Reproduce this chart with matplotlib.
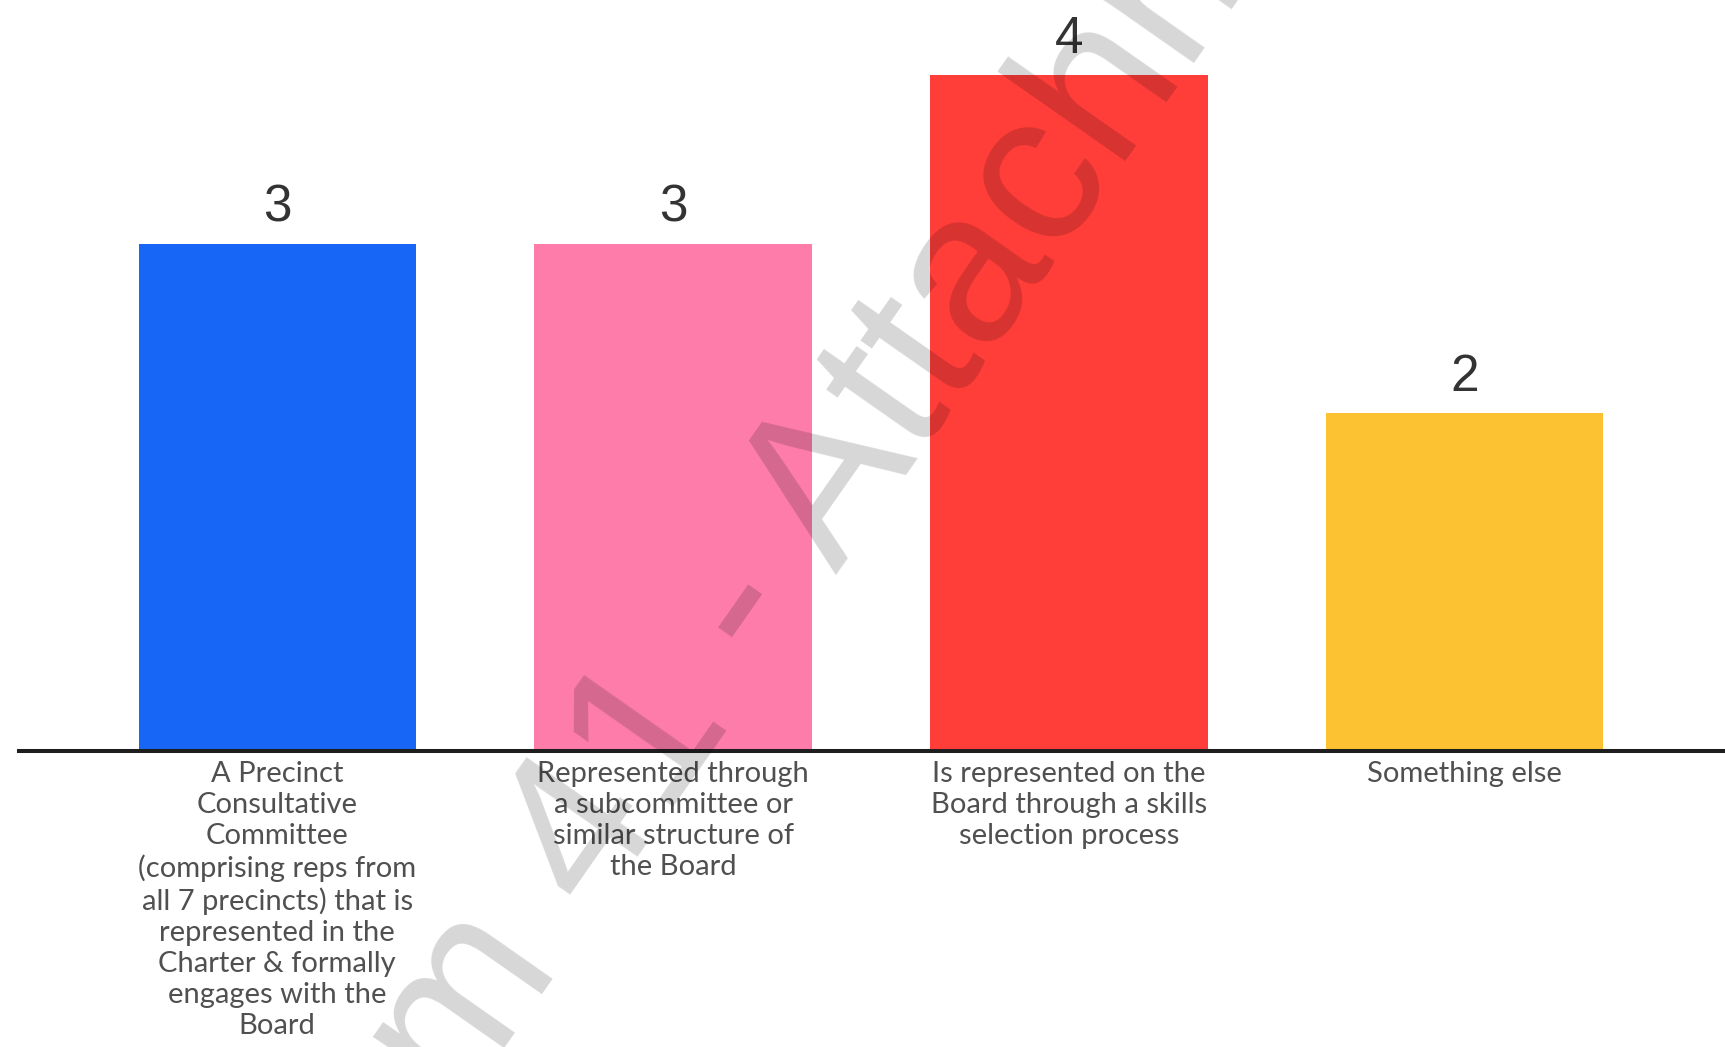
import numpy as np
import matplotlib
matplotlib.use("Agg")
import matplotlib.pyplot as plt

# survey answers and counts
categories = [
    "A Precinct\nConsultative\nCommittee\n(comprising reps from\nall 7 precincts) that is\nrepresented in the\nCharter & formally\nengages with the\nBoard",
    "Represented through\na subcommittee or\nsimilar structure of\nthe Board",
    "Is represented on the\nBoard through a skills\nselection process",
    "Something else",
]
counts = [3, 3, 4, 2]
bar_colors = ["#1766f5", "#fd7caa", "#ff3d39", "#fdc231"]
watermark = "Item 41 - Attachment 1"

fig = plt.figure(figsize=(17.25, 10.47), dpi=100)
W, H = 1725, 1047
ax = fig.add_axes([19 / W, 1 - 751 / H, 1 - 19 / W, 751 / H])

x = np.arange(len(counts))
bars = ax.bar(x, counts, width=0.70, color=bar_colors, zorder=2)

for xi, c in zip(x, counts):
    ax.annotate(str(c), (xi, c), xytext=(0, 16), textcoords="offset points",
                ha="center", va="baseline", fontsize=37, color="#333333",
                family="Liberation Sans")

ax.set_xlim(-0.652, 3.657)
ax.set_ylim(0, 751 / 169)
ax.set_yticks([])
ax.set_xticks(x)
ax.set_xticklabels(categories, fontsize=21, color="#505050", family="Lato",
                   linespacing=1.24)
ax.tick_params(axis="x", length=0, pad=7)
for s in ["top", "left", "right"]:
    ax.spines[s].set_visible(False)
ax.spines["bottom"].set_linewidth(2.9)
ax.spines["bottom"].set_color("#1e1e1e")

# faint diagonal watermark across the chart
renderer = fig.canvas.get_renderer()
ang = 55
fs = 155
tmp = fig.text(0, 0, "Item 41 -", fontsize=fs, family="Liberation Sans")
tmp_sp = fig.text(0, 0, "a a", fontsize=fs, family="Liberation Sans")
tmp_a = fig.text(0, 0, "aa", fontsize=fs, family="Liberation Sans")
w = (tmp.get_window_extent(renderer).width
     + tmp_sp.get_window_extent(renderer).width
     - tmp_a.get_window_extent(renderer).width)
for t in (tmp, tmp_sp, tmp_a):
    t.remove()
ax_px, ay_px = 843, H - 565
sx = ax_px - w * np.cos(np.radians(ang))
sy = ay_px - w * np.sin(np.radians(ang))
fig.text(sx / W, sy / H, watermark, fontsize=fs, family="Liberation Sans",
         rotation=ang, rotation_mode="anchor", ha="left", va="baseline",
         color="black", alpha=0.16, zorder=10)

fig.savefig("out.png", dpi=100, facecolor="white")
